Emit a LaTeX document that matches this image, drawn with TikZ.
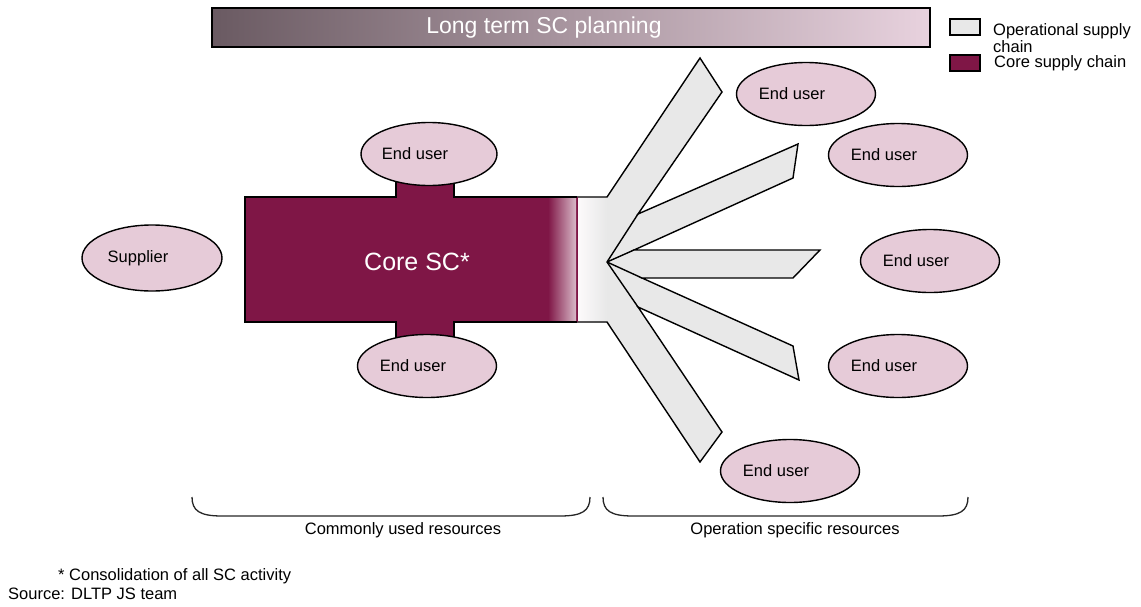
\documentclass[tikz,border=0pt]{standalone}
\usepackage{fontspec}
\setmainfont{Liberation Sans}
\usetikzlibrary{shapes.geometric,positioning}

\definecolor{corepurple}{HTML}{7F1646}
\definecolor{userpink}{HTML}{E6CBD8}
\definecolor{opgrey}{HTML}{E8E8E8}
\definecolor{plandark}{HTML}{6A5A62}
\definecolor{planlight}{HTML}{E8D2DE}

\begin{document}
\begin{tikzpicture}[x=1pt, y=-1pt, node distance=14pt,
	every node/.style={font=\fontsize{16.5}{13}\selectfont, inner sep=0pt},
	enduser/.style={ellipse, draw, line width=1.4pt, fill=userpink, minimum width=139pt, minimum height=63pt, execute at begin node={\hspace*{-28pt}}},
	legbox/.style={draw, line width=2pt, minimum width=30pt, minimum height=16pt},
	brace/.style={draw=black!85, line width=1.3pt}]
	\useasboundingbox (0,0) rectangle (1141,606);

	% long term planning bar
	\node[draw, line width=2pt, left color=plandark, right color=planlight, minimum width=718pt, minimum height=39pt] (plan) at (571,27.5) {};
	\node[text=white, font=\fontsize{23}{23}\selectfont] (plantext) at (544,28) {Long term SC planning};

	% operational supply chain (fan)
	\coordinate (hub) at (607,262);
	\fill[opgrey] (577,197) -- (607,197) -- (700,58) -- (722,92) -- (638,214) -- (798,144) -- (793,178) -- (634,250) -- (820,250) -- (793,278) -- (642,278) -- (793,346) -- (799,380) -- (638,307) -- (722,432) -- (700,462) -- (607,322) -- (577,322) -- cycle;
	\shade[left color=white!90!userpink, right color=opgrey] (578,197) rectangle (607,322);
	\draw[line width=1.4pt] (577,197) -- (607,197) -- (700,58) -- (722,92) -- (638,214) -- (798,144) -- (793,178) -- (634,250) -- (820,250) -- (793,278) -- (642,278) -- (793,346) -- (799,380) -- (638,307) -- (722,432) -- (700,462) -- (607,322) -- (577,322);
	\foreach \p in {(638,214),(634,250),(642,278),(638,307)}
		\draw[line width=1.4pt] \p -- (hub);

	% core supply chain
	\fill[corepurple] (245,197) -- (396,197) -- (396,180) -- (454,180) -- (454,197) -- (577,197) -- (577,322) -- (454,322) -- (454,340) -- (396,340) -- (396,322) -- (245,322) -- cycle;
	\shade[left color=corepurple, right color=corepurple!30!white] (548,197) rectangle (576,322);
	\draw[corepurple, line width=1pt] (577,197) -- (577,322);
	\draw[line width=1.4pt] (577,197) -- (454,197) -- (454,180) (396,180) -- (396,197) -- (245,197) -- (245,322) -- (396,322) -- (396,340) (454,340) -- (454,322) -- (577,322);
	\node[text=white, font=\fontsize{25}{25}\selectfont] (core) at (417,262) {Core SC*};

	% supplier and end users
	\node[enduser, minimum width=140pt, minimum height=66pt] (supplier) at (152,258) {Supplier};
	\node[enduser, minimum width=136pt] (eutop) at (429,154) {End user};
	\node[enduser] (eubot) at (427,366) {End user};
	\node[enduser] (eu1) at (806,94) {End user};
	\node[enduser] (eu2) at (898,155) {End user};
	\node[enduser] (eu3) at (930,261) {End user};
	\node[enduser] (eu4) at (898,366) {End user};
	\node[enduser] (eu5) at (790,471) {End user};

	% braces
	\draw[brace] (192,497) .. controls (192,511) and (200,516) .. (222,516) -- (560,516) .. controls (582,516) and (590,511) .. (590,497);
	\draw[brace] (603,497) .. controls (603,511) and (611,516) .. (633,516) -- (938,516) .. controls (960,516) and (968,511) .. (968,497);
	\node (common) at (403,530) {Commonly used resources};
	\node (specific) at (795,530) {Operation specific resources};

	% legend
	\node[legbox, fill=opgrey] (legop) at (965,26.5) {};
	\node[legbox, fill=corepurple] (legcore) at (965,63) {};
	\node[anchor=north west, align=left] (legoptext) at (993,23.5) {Operational supply\\chain};
	\node[right=13pt of legcore] (legcoretext) {Core supply chain};

	% notes
	\node[anchor=west] (note) at (58,576) {* Consolidation of all SC activity};
	\node[anchor=west] (source) at (8,594) {Source: DLTP JS team};
\end{tikzpicture}
\end{document}
